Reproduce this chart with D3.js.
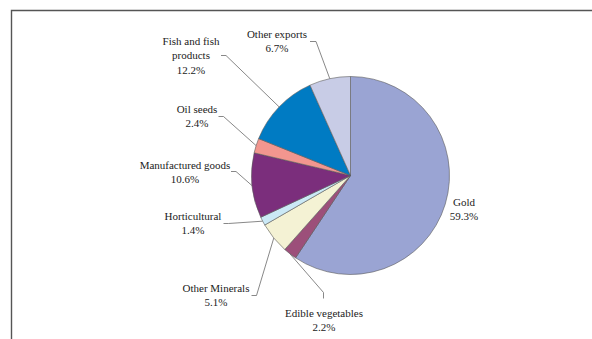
<!DOCTYPE html>
<html>
<head>
<meta charset="utf-8">
<script src="https://cdn.jsdelivr.net/npm/d3@7"></script>
<style>
  html, body { margin: 0; padding: 0; background: #fff; }
  svg { display: block; }
</style>
</head>
<body>
<svg id="chart" width="592" height="339"></svg>
<script>
// Export shares (%), clockwise from 12 o'clock
const categories = [
  "Gold", "Edible vegetables", "Other Minerals", "Horticultural",
  "Manufactured goods", "Oil seeds", "Fish and fish products", "Other exports"
];
const shares = [59.3, 2.2, 5.1, 1.4, 10.6, 2.4, 12.2, 6.7];
const labelLines = [
  ["Gold"], ["Edible vegetables"], ["Other Minerals"], ["Horticultural"],
  ["Manufactured goods"], ["Oil seeds"], ["Fish and fish", "products"], ["Other exports"]
];
const colors = [
  "#9aa4d3", "#9c4f7a", "#f4f2d4", "#cbe9f6",
  "#7b2e7c", "#f2968f", "#007bc3", "#c8cce6"
];

// Label placement: centre x and first-line y of each label block
const labelPos = [
  [464, 202], [324, 313], [216, 288], [193, 216],
  [185, 165], [197, 109], [191, 41], [277, 34]
];
// Leader elbows: short tick start/end next to the label (null = straight down to label)
const leaderTick = [
  null,
  [[323.5, 292.5], [323.5, 298.5]],
  [[251.5, 295.5], [256.5, 295.5]],
  [[223.5, 223.5], [228.5, 223.5]],
  [[231, 171.5], [236, 171.5]],
  [[218.5, 116.5], [223.5, 116.5]],
  [[221, 55.5], [226, 55.5]],
  [[310, 41.5], [316, 41.5]]
];

const svg = d3.select("#chart");
const cx = 350.5, cy = 175.5, r = 99;

// Frame lines (top and left)
svg.append("path")
  .attr("d", "M11.5,339 L11.5,10.5 L592,10.5")
  .attr("fill", "none")
  .attr("stroke", "#555")
  .attr("stroke-width", 1.4);

const pie = d3.pie().sort(null).value(d => d)(shares);
const arc = d3.arc().innerRadius(0).outerRadius(r);

const g = svg.append("g").attr("transform", `translate(${cx},${cy})`);
g.selectAll("path.slice")
  .data(pie)
  .join("path")
  .attr("class", "slice")
  .attr("d", arc)
  .attr("fill", (d, i) => colors[i])
  .attr("stroke", "#5a5a5a")
  .attr("stroke-width", 0.6)
  .attr("stroke-linejoin", "round");

// Leader lines from each slice's outer mid-point to its label
pie.forEach((d, i) => {
  const tick = leaderTick[i];
  if (!tick) return;
  const a = (d.startAngle + d.endAngle) / 2;
  const ax = cx + Math.sin(a) * r;
  const ay = cy - Math.cos(a) * r;
  let pts;
  if (i === 1) {
    pts = [[ax, ay], tick[0], tick[1]];
  } else {
    pts = [tick[0], tick[1], [ax, ay]];
  }
  svg.append("path")
    .attr("d", d3.line()(pts))
    .attr("fill", "none")
    .attr("stroke", "#6a6a6a")
    .attr("stroke-width", 0.8);
});

// Labels: name lines followed by the percentage
const fmt = v => v.toFixed(1) + "%";
const lineH = 14.4;
pie.forEach((d, i) => {
  const [lx, ly] = labelPos[i];
  const lines = labelLines[i].concat([fmt(shares[i])]);
  const t = svg.append("text")
    .attr("x", lx)
    .attr("y", ly)
    .attr("text-anchor", "middle")
    .attr("font-family", "'Liberation Serif', 'Times New Roman', serif")
    .attr("font-size", 11)
    .attr("fill", "#222");
  lines.forEach((s, k) => {
    t.append("tspan")
      .attr("x", lx)
      .attr("y", ly + k * lineH)
      .attr("dy", "0.35em")
      .text(s);
  });
});
</script>
</body>
</html>
